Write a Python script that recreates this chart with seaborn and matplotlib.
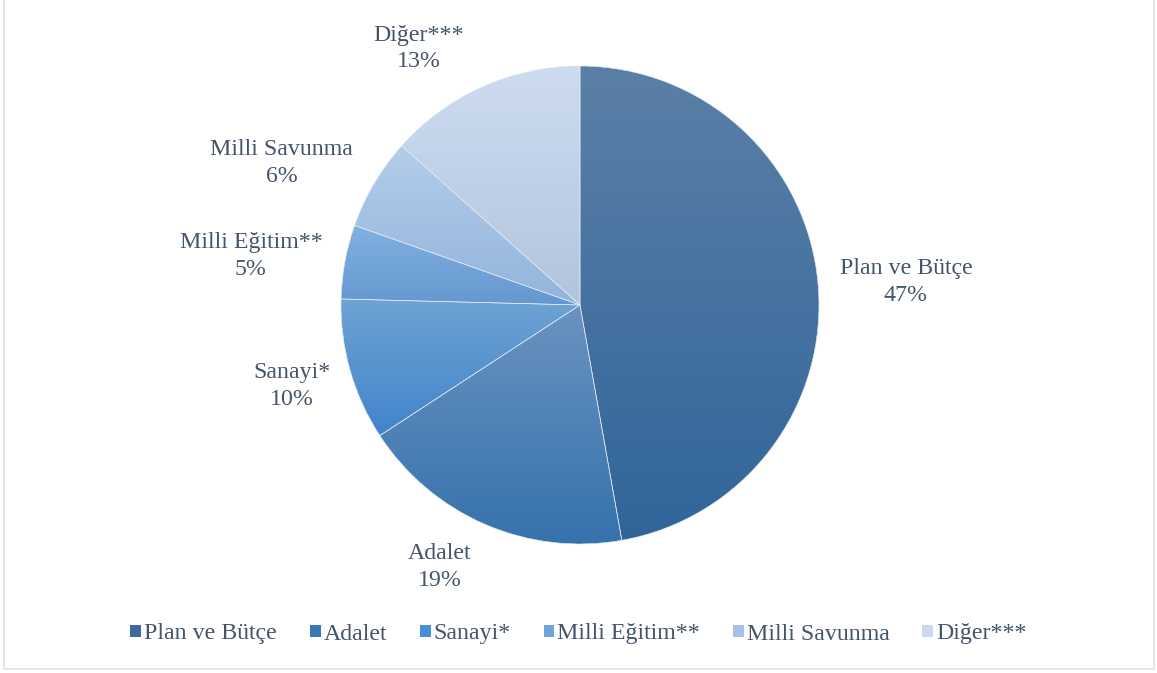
import numpy as np
import matplotlib
matplotlib.use('Agg')
import matplotlib.pyplot as plt
from matplotlib.colors import LinearSegmentedColormap
from matplotlib.patches import Rectangle
import seaborn as sns

categories = ['Plan ve Bütçe', 'Adalet', 'Sanayi*', 'Milli Eğitim**', 'Milli Savunma', 'Diğer***']
shares = [47.2, 18.6, 9.6, 5.0, 6.2, 13.4]
pct_labels = ['47%', '19%', '10%', '5%', '6%', '13%']

# gradient colours (top, bottom) per slice, and the flat legend colour
grad_top = ['#5b80a7', '#6a93c0', '#6fa3d4', '#82b1e1', '#b4cdea', '#cddcf0']
grad_bottom = ['#31659a', '#3672ad', '#4184cb', '#6598d0', '#93b4dc', '#b2c4dd']
legend_colors = ['#3d6a98', '#3c77b3', '#4a8fd4', '#6ea3dc', '#a5c2e6', '#cad9ef']
# label centres, in units of the pie radius
label_xy = [(1.364, 0.096), (-0.586, -1.096), (-1.205, -0.339),
            (-1.377, 0.205), (-1.249, 0.594), (-0.674, 1.075)]

text_color = '#44546a'
fs = 17.2

sns.set_theme(style='white')
plt.rcParams['font.family'] = ['Liberation Serif', 'DejaVu Serif']

W, H = 1157, 673
fig = plt.figure(figsize=(W / 100, H / 100), dpi=100)

# pie centred at (580, 305) px with radius 239 px
R = 239
cx, cy = 580, 305
lim = 1.2
ax = fig.add_axes([(cx - R * lim) / W, (H - cy - R * lim) / H, 2 * R * lim / W, 2 * R * lim / H])

wedges, texts = ax.pie(shares, startangle=90, counterclock=False,
                       labels=[f'{c}\n{p}' for c, p in zip(categories, pct_labels)],
                       wedgeprops=dict(facecolor='none', edgecolor='#dfe8f3', linewidth=0.45))

for w, t, top, bot, xy in zip(wedges, texts, grad_top, grad_bottom, label_xy):
    ext = w.get_path().get_extents()
    cmap = LinearSegmentedColormap.from_list('g', [bot, top])
    grad = np.linspace(0, 1, 256).reshape(-1, 1)
    im = ax.imshow(grad, cmap=cmap, origin='lower', aspect='auto',
                   extent=[ext.x0, ext.x1, ext.y0, ext.y1], zorder=0.5)
    im.set_clip_path(w)
    t.set_position(xy)
    t.set_ha('center')
    t.set_va('center')
    t.set_fontsize(fs)
    t.set_color(text_color)
    t.set_linespacing(1.32)

ax.set_xlim(-lim, lim)
ax.set_ylim(-lim, lim)
ax.set_aspect('auto')
ax.axis('off')

handles = [Rectangle((0, 0), 1, 1, facecolor=c, edgecolor='none') for c in legend_colors]
leg = fig.legend(handles, categories, loc='center', bbox_to_anchor=(0.5, 1 - 634 / H),
                 ncol=6, frameon=False, fontsize=fs, handlelength=0.45, handleheight=0.45,
                 handletextpad=0.12, columnspacing=1.38)
for txt in leg.get_texts():
    txt.set_color(text_color)

# chart border
fig.patches.append(Rectangle((3.5 / W, 1 - 669 / H), (1154 - 3.5) / W, 669 / H + 0.01,
                             transform=fig.transFigure, fill=False,
                             edgecolor='#dde2e8', linewidth=1.2))

fig.savefig('out.png', dpi=100)
